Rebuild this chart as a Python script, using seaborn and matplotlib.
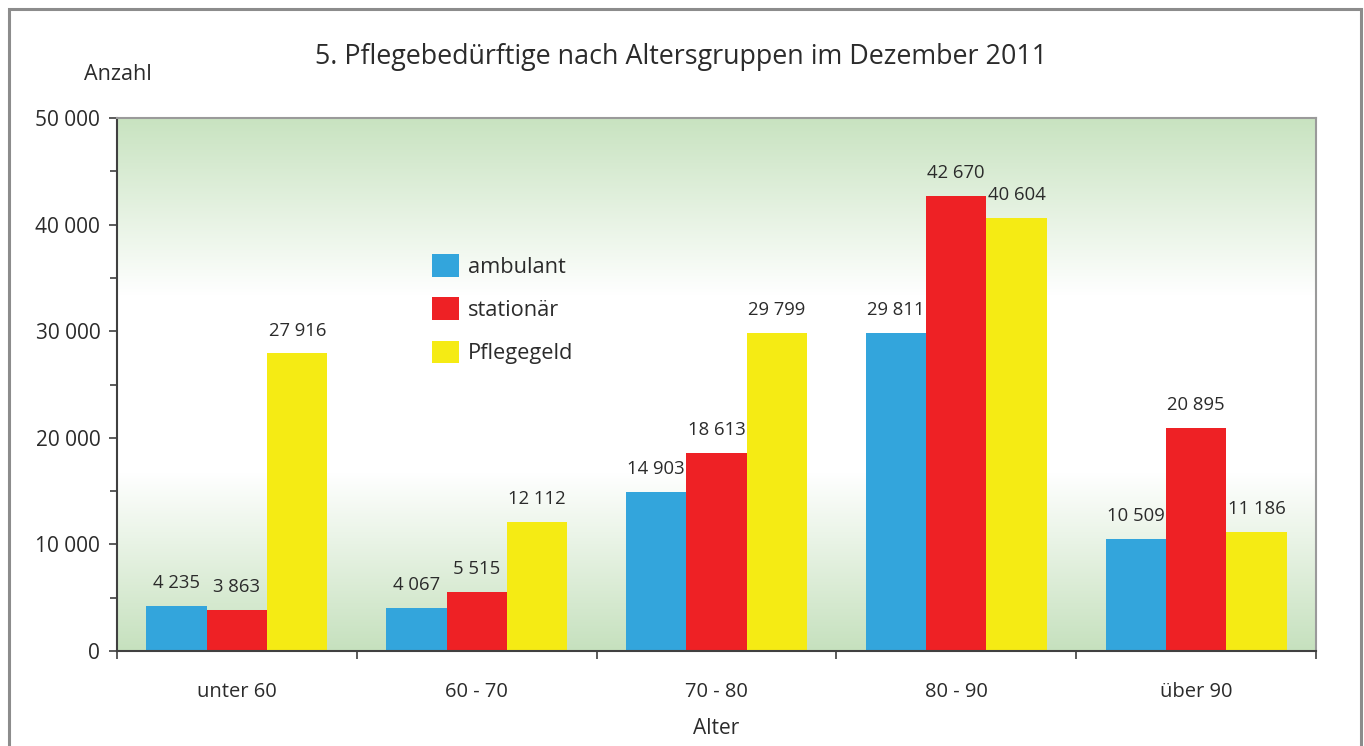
"""Pflegebedürftige nach Altersgruppen im Dezember 2011 (grouped bars)."""

import matplotlib.pyplot as plt
import numpy as np
import pandas as pd
import seaborn as sns
from matplotlib.colors import LinearSegmentedColormap
from matplotlib.patches import Rectangle
from matplotlib.ticker import FuncFormatter, MultipleLocator

ALTERSGRUPPEN = ["unter 60", "60 - 70", "70 - 80", "80 - 90", "über 90"]
ARTEN = ["ambulant", "stationär", "Pflegegeld"]
AMBULANT = [4235, 4067, 14903, 29811, 10509]
STATIONAER = [3863, 5515, 18613, 42670, 20895]
PFLEGEGELD = [27916, 12112, 29799, 40604, 11186]

FARBEN = ["#33a5dc", "#ee2125", "#f5eb14"]
TEXT = "#2b2b2b"


def tausender(value, _pos=None):
    return f"{int(value):,}".replace(",", " ")


sns.set_theme(style="white")
plt.rcParams["font.family"] = ["Open Sans", "DejaVu Sans"]

df = pd.DataFrame(
    {
        "Alter": ALTERSGRUPPEN * 3,
        "Art": np.repeat(ARTEN, len(ALTERSGRUPPEN)),
        "Anzahl": AMBULANT + STATIONAER + PFLEGEGELD,
    }
)

fig = plt.figure(figsize=(13.64, 7.46), dpi=100)
ax = fig.add_axes([0.0858, 0.1273, 0.879, 0.7145])

# outer frame
fig.patches.append(
    Rectangle((0.0065, -0.05), 0.9915, 1.038, transform=fig.transFigure,
              fill=False, edgecolor="#8c8c8c", linewidth=2.2, zorder=0)
)

sns.barplot(
    data=df, x="Alter", y="Anzahl", hue="Art", order=ALTERSGRUPPEN,
    hue_order=ARTEN, palette=FARBEN, saturation=1, width=0.755,
    linewidth=0, ax=ax, zorder=3,
)

ax.set_xlim(-0.5, 4.5)

# green-white-green background
grad = LinearSegmentedColormap.from_list(
    "bg", ["#c6e1be", "#ffffff", "#ffffff", "#c8e3c0"], N=256)
ax.imshow(np.linspace(0, 1, 256).reshape(-1, 1), cmap=grad, aspect="auto",
          extent=(-0.5, 4.5, 50000, 0), zorder=0)
ax.set_ylim(0, 50000)

for container, werte in zip(ax.containers, [AMBULANT, STATIONAER, PFLEGEGELD]):
    ax.bar_label(container, labels=[tausender(v) for v in werte],
                 padding=10, fontsize=13.3, color=TEXT)

ax.yaxis.set_major_locator(MultipleLocator(10000))
ax.yaxis.set_minor_locator(MultipleLocator(5000))
ax.yaxis.set_major_formatter(FuncFormatter(tausender))
ax.tick_params(axis="y", which="major", left=True, length=6, width=1.2,
               color="#404040", labelsize=15, labelcolor=TEXT, pad=6)
ax.tick_params(axis="y", which="minor", left=True, length=5, width=1.2,
               color="#404040")

ax.set_xticks(range(len(ALTERSGRUPPEN)))
ax.set_xticklabels(ALTERSGRUPPEN)
ax.set_xticks(np.arange(-0.5, 5, 1), minor=True)
ax.tick_params(axis="x", which="major", length=0, labelsize=14.5,
               labelcolor=TEXT, pad=22)
ax.tick_params(axis="x", which="minor", bottom=True, length=6, width=1.2,
               color="#404040")

for side in ["left", "bottom"]:
    ax.spines[side].set_color("#404040")
    ax.spines[side].set_linewidth(1.5)
for side in ["top", "right"]:
    ax.spines[side].set_color("#9a9a9a")
    ax.spines[side].set_linewidth(1.5)
for spine in ax.spines.values():
    spine.set_zorder(5)

ax.set_xlabel("Alter", fontsize=15, color=TEXT, labelpad=12)
ax.set_ylabel("")

ax.legend(
    loc="upper left", bbox_to_anchor=(0.263, 0.745), frameon=False,
    fontsize=15.7, handlelength=1.23, handleheight=1.23, labelspacing=0.9,
    handletextpad=0.42, borderpad=0, borderaxespad=0, labelcolor=TEXT,
)

fig.text(0.0616, 1 - 74 / 746, "Anzahl", fontsize=15.5, color=TEXT,
         ha="left", va="center")
fig.text(0.499, 1 - 57 / 746,
         "5. Pflegebedürftige nach Altersgruppen im Dezember 2011",
         fontsize=19.4, color=TEXT, ha="center", va="center")

fig.savefig("out.png", dpi=100)
